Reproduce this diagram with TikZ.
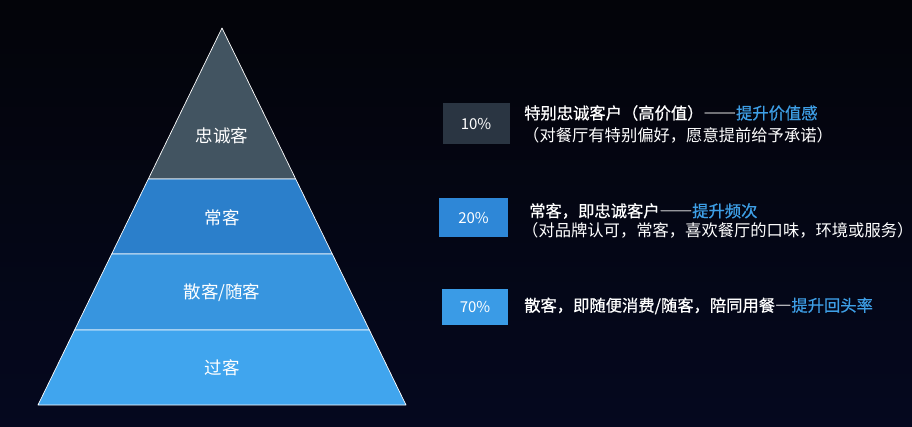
\documentclass[tikz,border=0pt]{standalone}
\usepackage{fontspec}
\setmainfont{Noto Sans CJK SC}
\newfontfamily\semibold[FakeBold=0.6]{Noto Sans CJK SC}
\usetikzlibrary{calc}
\definecolor{bgtop}{HTML}{030409}
\definecolor{bgbot}{HTML}{05081F}
\definecolor{layerA}{HTML}{425461}
\definecolor{layerB}{HTML}{2B7FCB}
\definecolor{layerC}{HTML}{3795DF}
\definecolor{layerD}{HTML}{40A5EE}
\definecolor{boxA}{HTML}{2A3542}
\definecolor{boxB}{HTML}{2E87D7}
\definecolor{boxC}{HTML}{3A9BE6}
\definecolor{hlblue}{HTML}{3E9FE6}
\tikzstyle{layertext}=[text=white, font=\fontsize{17.5}{20}\selectfont]
\tikzstyle{pctbox}=[minimum width=67pt, minimum height=39pt, inner sep=0pt,
  text=white!88, font=\fontsize{15}{17}\selectfont]
\tikzstyle{desc}=[anchor=west, inner sep=0pt, text=white!95,
  font=\fontsize{16.3}{18}\selectfont]
\tikzstyle{headline}=[desc, font=\fontsize{16.3}{18}\selectfont\semibold]
\newcommand{\hl}[1]{\textcolor{hlblue}{#1}}
\newcommand{\fwdash}[1]{{\addfontfeatures{RawFeature=+fwid}#1}}

\begin{document}
\begin{tikzpicture}[x=1pt, y=-1pt]
\useasboundingbox (0,0) rectangle (912,427);
\shade[top color=bgtop, bottom color=bgbot] (0,0) rectangle (912,427);
\coordinate (apex) at (222,28);
\coordinate (bl) at (38,405);
\coordinate (br) at (406,405);
% pyramid layers
\foreach \a/\b/\col in {0/0.4005/layerA, 0.4005/0.5995/layerB,
                        0.5995/0.801/layerC, 0.801/1/layerD}
  \filldraw[fill=\col, draw=white!80, line width=0.7pt, line join=round]
    ($(apex)!\a!(bl)$) -- ($(apex)!\b!(bl)$) -- ($(apex)!\b!(br)$)
    -- ($(apex)!\a!(br)$) -- cycle;
\node[layertext] (loyal) at (222,136) {忠诚客};
\node[layertext] (regular) at (222,218) {常客};
\node[layertext] (casual) at (222,293) {散客/随客};
\node[layertext] (passer) at (222,368) {过客};
% percentages
\node[pctbox, fill=boxA, minimum height=41pt] (p10) at (476,124) {10\%};
\node[pctbox, fill=boxB, minimum width=69pt] (p20) at (473.5,218) {20\%};
\node[pctbox, fill=boxC, minimum width=66pt, minimum height=36pt] (p70) at (475,307) {70\%};
% descriptions
\node[headline] (d10a) at (524,113) {特别忠诚客户（高价值）\fwdash{——}\hl{提升价值感}};
\node[desc] (d10b) at (523,135) {（对餐厅有特别偏好，愿意提前给予承诺）};
\node[headline] (d20a) at (529,211) {常客，即忠诚客户\fwdash{——}\hl{提升频次}};
\node[desc] (d20b) at (522,230) {（对品牌认可，常客，喜欢餐厅的口味，环境或服务）};
\node[headline] (d70) at (524,306) {散客，即随便消费/随客，陪同用餐\fwdash{—}\hl{提升回头率}};
\end{tikzpicture}
\end{document}
